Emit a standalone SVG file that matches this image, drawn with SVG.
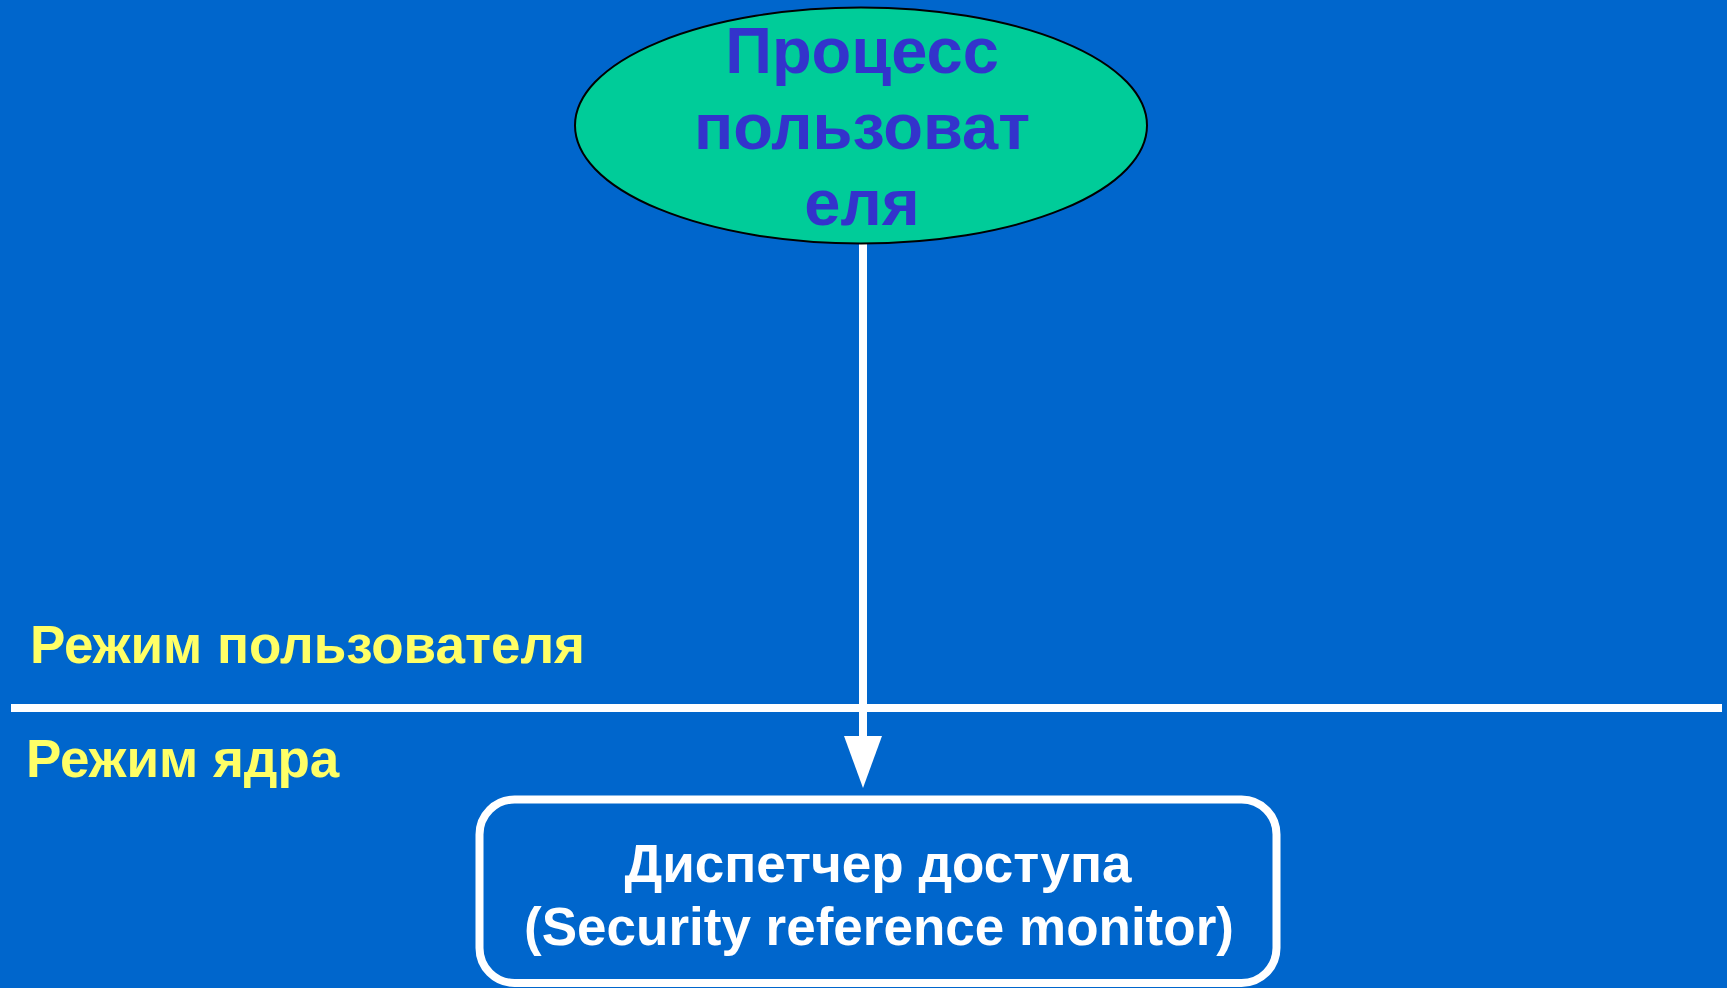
<svg xmlns="http://www.w3.org/2000/svg" width="1727" height="988" viewBox="0 0 1727 988">
<style>
.ell{font-family:"Liberation Sans",Arial,sans-serif;font-weight:bold;font-size:65px;fill:#3333CC;text-anchor:middle}
.mode{font-family:"Liberation Sans",Arial,sans-serif;font-weight:bold;font-size:53px;fill:#FFFF66}
.box{font-family:"Liberation Sans",Arial,sans-serif;font-weight:bold;font-size:53px;fill:#FFFFFF;text-anchor:middle}
</style>
<rect x="0" y="0" width="1727" height="988" fill="#0066CC"/>
<g id="divider">
<line x1="11" y1="708" x2="1722" y2="708" stroke="#FFFFFF" stroke-width="8"/>
</g>
<g id="label-user-mode">
<text class="mode" x="30" y="663">Режим пользователя</text>
</g>
<g id="label-kernel-mode">
<text class="mode" x="26" y="777">Режим ядра</text>
</g>
<g id="connectors">
<line x1="863" y1="243" x2="863" y2="740" stroke="#FFFFFF" stroke-width="8"/>
<path d="M844,736 L882,736 L863,788 Z" fill="#FFFFFF"/>
</g>
<g id="user-process">
<ellipse cx="861" cy="125.5" rx="286" ry="118" fill="#00CC99" stroke="#000000" stroke-width="2"/>
<text class="ell" x="862" y="73">Процесс</text>
<text class="ell" x="862" y="149">пользоват</text>
<text class="ell" x="862" y="225">еля</text>
</g>
<g id="security-reference-monitor">
<rect x="479.5" y="799.5" width="797" height="183.5" rx="35" ry="35" fill="none" stroke="#FFFFFF" stroke-width="8"/>
<text class="box" x="878" y="882">Диспетчер доступа</text>
<text class="box" x="879" y="945">(Security reference monitor)</text>
</g>
</svg>
